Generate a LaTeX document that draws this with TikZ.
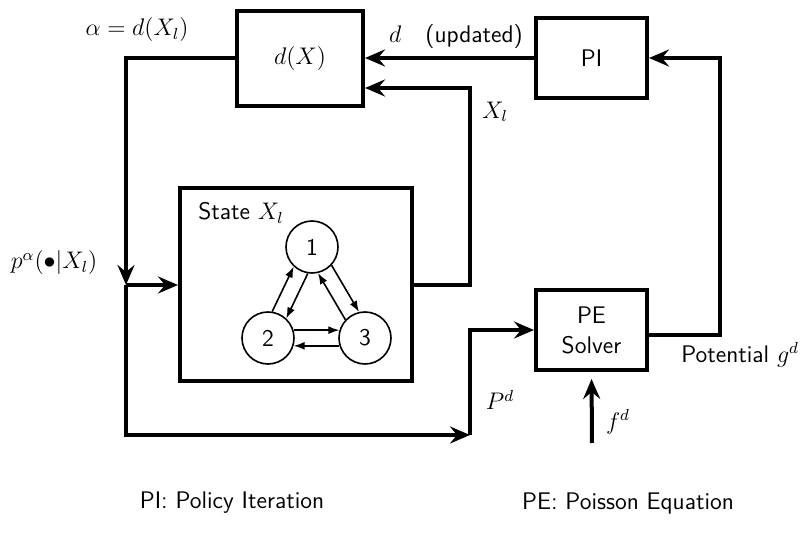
\documentclass[tikz,border=0pt]{standalone}
\usetikzlibrary{arrows.meta,calc}
\begin{document}
\begin{tikzpicture}[x=0.5pt,y=-0.5pt,
  font=\sffamily\fontsize{12}{14}\selectfont,
  blk/.style={draw,line width=2pt,inner sep=0pt,align=center},
  wire/.style={line width=2pt},
  arr/.style={line width=2pt,-{Stealth[length=10pt,width=8.5pt,inset=3.5pt]}},
  st/.style={draw,circle,line width=0.8pt,minimum size=26pt,inner sep=0pt},
  tr/.style={line width=0.8pt,-{Latex[length=5.5pt,width=4pt]}},
  lbl/.style={inner sep=0pt}]
\useasboundingbox (0,0) rectangle (804,540);
% blocks
\node[blk,minimum width=63pt,minimum height=47.5pt] (dX) at (300,58.5) {$d(X)$};
\node[blk,minimum width=55.5pt,minimum height=40pt] (PI) at (591.5,58) {PI};
\node[blk,minimum width=116pt,minimum height=96.5pt] (state) at (296,284.5) {};
\node[blk,minimum width=55.5pt,minimum height=40pt] (PE) at (591.5,330) {PE\\[1pt]Solver};
% states
\node[st] (s1) at (312,247) {1};
\node[st] (s2) at (268,338) {2};
\node[st] (s3) at (365,338) {3};
\draw[tr] (s2.81) -- (s1.227);
\draw[tr] (s1.261) -- (s2.47);
\draw[tr] (s3.137) -- (s1.283);
\draw[tr] (s1.317) -- (s3.103);
\draw[tr] (s2.17) -- (s3.163);
\draw[tr] (s3.197) -- (s2.343);
% coordinates
\coordinate (j) at (126,285);
\coordinate (c1) at (470,435);
\coordinate (c2) at (470,88);
\coordinate (r) at (720,58);
\coordinate (fin) at (592,443);
% connectors
\draw[arr] (dX.west) -| (j);
\draw[arr] (j) -- (j -| state.west);
\draw[arr] (j) |- (c1);
\draw[arr] (c1) |- (PE.west);
\draw[arr] (state.east) -| (c2) -- (c2 -| dX.east);
\draw[arr] (PI.west) -- (PI.west -| dX.east);
\draw[arr] ([yshift=-2.5pt]PE.east) -| (r) -- (PI.east);
\draw[arr,shorten >=3.5pt] (fin) -- (PE.south);
% labels
\node[lbl] (la) at (137,30) {$\alpha = d(X_l)$};
\node[lbl] (ld) at (456,37) {$d$\quad(updated)};
\node[lbl] (lx) at (495,112) {$X_l$};
\node[lbl] (lp) at (54,263) {$p^{\alpha}(\bullet|X_l)$};
\node[lbl,anchor=west] (ls) at (198,213) {State $X_l$};
\node[lbl,anchor=west] (lg) at (681,355) {Potential $g^d$};
\node[lbl] (lP) at (500,400) {$P^d$};
\node[lbl] (lf) at (618,422) {$f^d$};
\node[lbl] (n1) at (232,503) {PI: Policy Iteration};
\node[lbl] (n2) at (628,503) {PE: Poisson Equation};
\end{tikzpicture}
\end{document}
